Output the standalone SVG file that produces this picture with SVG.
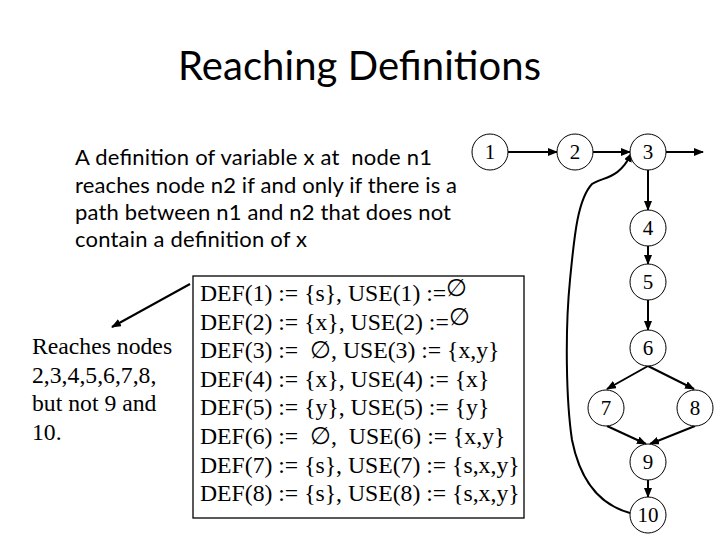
<svg xmlns="http://www.w3.org/2000/svg" width="720" height="540" viewBox="0 0 720 540">
<defs>
<marker id="ah" markerUnits="userSpaceOnUse" markerWidth="10" markerHeight="8" refX="9" refY="4" orient="auto">
<path d="M0,0 L10,4 L0,8 z" fill="#000"/>
</marker>
<style>
.title{font-family:Lato,"Open Sans",sans-serif;font-size:40px;fill:#000}
.desc{font-family:Lato,"Open Sans",sans-serif;font-size:22px;fill:#000}
.tm{font-family:"Liberation Serif","Times New Roman",serif;font-size:23.7px;fill:#000;white-space:pre}
.num{font-family:"Liberation Serif","Times New Roman",serif;font-size:21px;fill:#000;text-anchor:middle}
.node circle{fill:#fff;stroke:#000;stroke-width:1}
.edge{stroke:#000;stroke-width:2;fill:none;marker-end:url(#ah)}
</style>
</defs>
<rect width="720" height="540" fill="#fff"/>
<text class="title" x="178" y="80" textLength="363">Reaching Definitions</text>
<g id="description">
<text class="desc" x="75" y="165" textLength="357" xml:space="preserve">A definition of variable x at  node n1</text>
<text class="desc" x="75" y="193" textLength="382">reaches node n2 if and only if there is a</text>
<text class="desc" x="75" y="220" textLength="376">path between n1 and n2 that does not</text>
<text class="desc" x="75" y="247" textLength="232">contain a definition of x</text>
</g>
<g id="reaches">
<text class="tm" x="32" y="354">Reaches nodes</text>
<text class="tm" x="32" y="382.6">2,3,4,5,6,7,8,</text>
<text class="tm" x="32" y="411.2">but not 9 and</text>
<text class="tm" x="32" y="439.8">10.</text>
</g>
<g id="defuse">
<rect x="193" y="276" width="331" height="242" fill="none" stroke="#000" stroke-width="1.3"/>
<text class="tm" x="200" y="301" xml:space="preserve">DEF(1) := {s}, USE(1) :=<tspan dy="-5">∅</tspan></text>
<text class="tm" x="200" y="329.6" xml:space="preserve">DEF(2) := {x}, USE(2) :=<tspan dy="-5">∅</tspan></text>
<text class="tm" x="200" y="358.2" xml:space="preserve">DEF(3) :=  ∅, USE(3) := {x,y}</text>
<text class="tm" x="200" y="386.8" xml:space="preserve">DEF(4) := {x}, USE(4) := {x}</text>
<text class="tm" x="200" y="415.4" xml:space="preserve">DEF(5) := {y}, USE(5) := {y}</text>
<text class="tm" x="200" y="444" xml:space="preserve">DEF(6) :=  ∅,  USE(6) := {x,y}</text>
<text class="tm" x="200" y="472.6" xml:space="preserve">DEF(7) := {s}, USE(7) := {s,x,y}</text>
<text class="tm" x="200" y="501.2" xml:space="preserve">DEF(8) := {s}, USE(8) := {s,x,y}</text>
</g>
<g id="connectors">
<line class="edge" x1="190" y1="284" x2="112" y2="327"/>
<line class="edge" x1="508" y1="152" x2="557" y2="152"/>
<line class="edge" x1="593" y1="152" x2="630" y2="152"/>
<line class="edge" x1="666" y1="152" x2="703" y2="152"/>
<line class="edge" x1="648" y1="170" x2="648" y2="210"/>
<line class="edge" x1="648" y1="246" x2="648" y2="264"/>
<line class="edge" x1="648" y1="300" x2="648" y2="330"/>
<line class="edge" x1="648" y1="366" x2="607" y2="389"/>
<line class="edge" x1="648" y1="366" x2="694" y2="389"/>
<line class="edge" x1="607" y1="426" x2="646" y2="444"/>
<line class="edge" x1="695" y1="426" x2="650" y2="444"/>
<line class="edge" x1="648" y1="480" x2="648" y2="497"/>
<path class="edge" d="M630,513 C600,505 580,480 572,440 C566,400 565,330 570,280 C574,240 577,200 592,184 C605,176 618,180 632,153"/>
</g>
<g id="n1" class="node"><circle cx="490" cy="152" r="18"/><text class="num" x="490" y="159">1</text></g>
<g id="n2" class="node"><circle cx="575" cy="152" r="18"/><text class="num" x="575" y="159">2</text></g>
<g id="n3" class="node"><circle cx="648" cy="152" r="18"/><text class="num" x="648" y="159">3</text></g>
<g id="n4" class="node"><circle cx="648" cy="228" r="18"/><text class="num" x="648" y="235">4</text></g>
<g id="n5" class="node"><circle cx="648" cy="282" r="18"/><text class="num" x="648" y="289">5</text></g>
<g id="n6" class="node"><circle cx="648" cy="348" r="18"/><text class="num" x="648" y="355">6</text></g>
<g id="n7" class="node"><circle cx="606" cy="408" r="18"/><text class="num" x="606" y="415">7</text></g>
<g id="n8" class="node"><circle cx="695" cy="408" r="18"/><text class="num" x="695" y="415">8</text></g>
<g id="n9" class="node"><circle cx="648" cy="462" r="18"/><text class="num" x="648" y="469">9</text></g>
<g id="n10" class="node"><circle cx="648" cy="515" r="18"/><text class="num" x="648" y="522">10</text></g>
</svg>
